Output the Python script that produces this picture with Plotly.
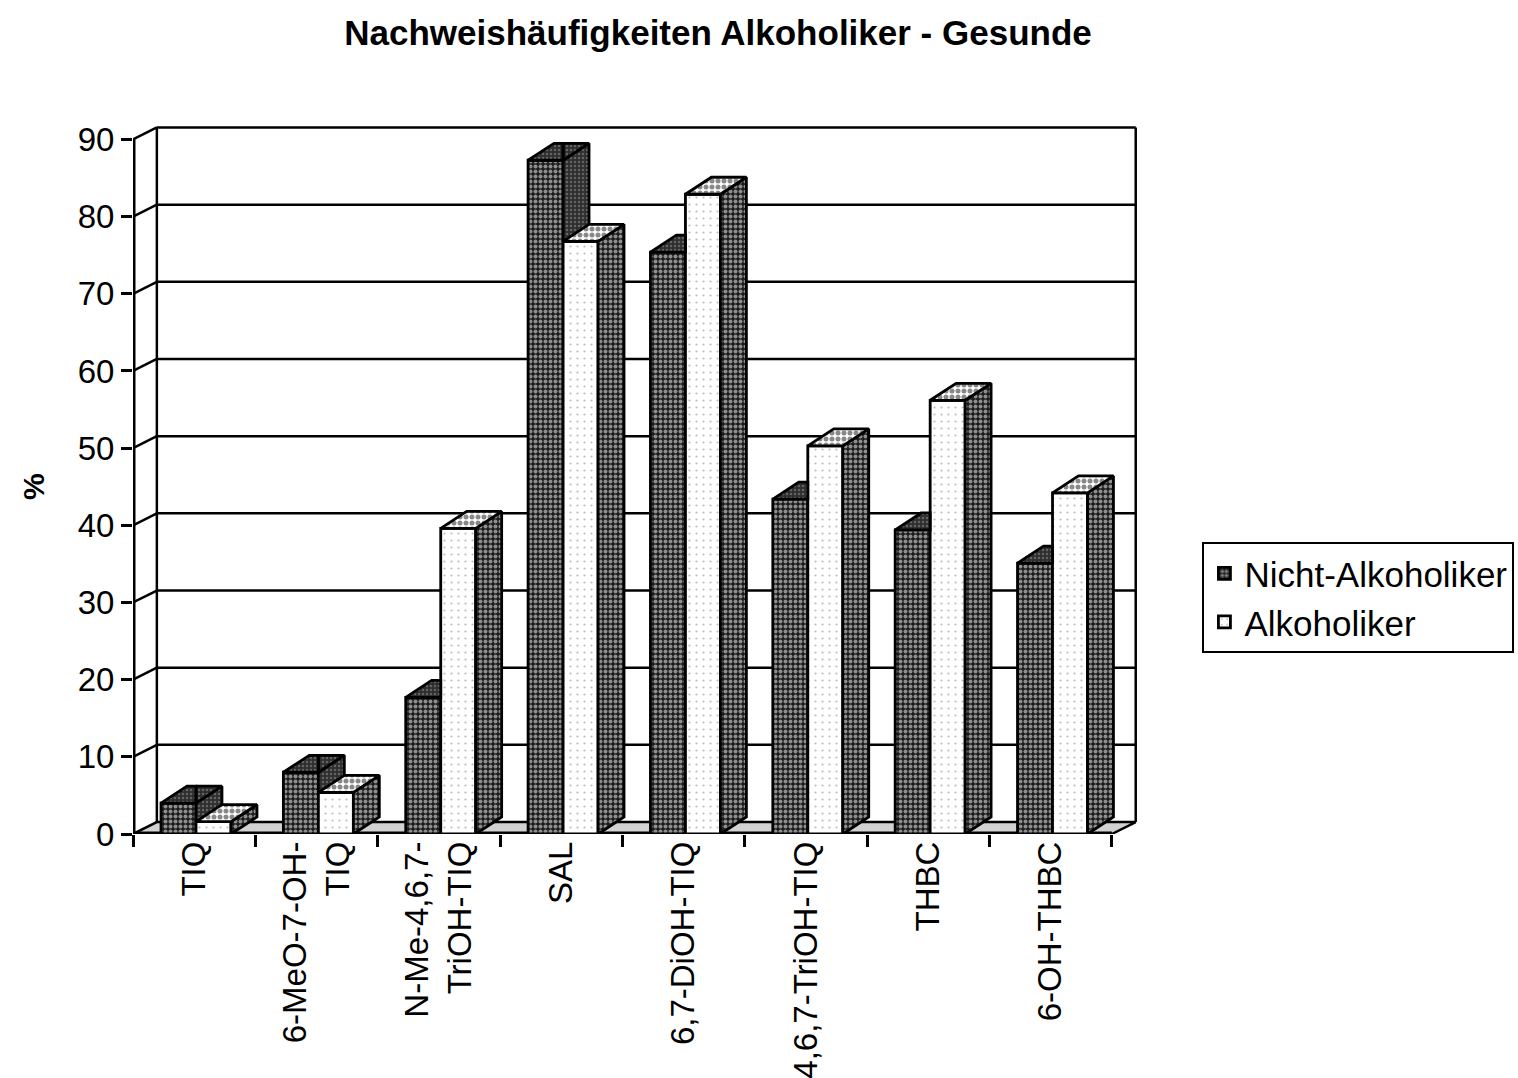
import plotly.graph_objects as go

# ---- data -------------------------------------------------------------
categories = [
    "TIQ",
    "6-MeO-7-OH-<br>TIQ",
    "N-Me-4,6,7-<br>TriOH-TIQ",
    "SAL",
    "6,7-DiOH-TIQ",
    "4,6,7-TriOH-TIQ",
    "THBC",
    "6-OH-THBC",
]
nicht_alkoholiker = [4.0, 8.0, 17.7, 87.3, 75.4, 43.4, 39.4, 35.1]
alkoholiker = [1.6, 5.4, 39.6, 76.8, 82.9, 50.3, 56.2, 44.2]
y_ticks = [0, 10, 20, 30, 40, 50, 60, 70, 80, 90]

# ---- pseudo-3D geometry (axis units) ---------------------------------
BAR_W = 0.286          # front face width of one column
OFF_DARK = -0.271      # left edge of first column relative to category centre
OFF_LIGHT = OFF_DARK + BAR_W
DX, DY = 0.212, 2.2    # depth offset of a column (x units, value units)
WDX, WDY = 0.195, 1.55 # depth offset of the walls / floor
N = len(categories)
X0, X1 = -0.5, N - 0.5
YMAX = y_ticks[-1]

FONT = "Arial, Liberation Sans, sans-serif"
EDGE = dict(color="black", width=2.8)

PAT_DARK = dict(shape=".", bgcolor="#1c1c1c", fgcolor="white", size=5, solidity=0.5)
PAT_DARK_SHADE = dict(shape=".", bgcolor="#2e2e2e", fgcolor="#9a9a9a", size=4, solidity=0.3)
PAT_LIGHT = dict(shape=".", bgcolor="white", fgcolor="#7a7a7a", size=7, solidity=0.08)
PAT_LIGHT_TOP = dict(shape=".", bgcolor="white", fgcolor="#111111", size=6, solidity=0.55)


def clip_half(poly, a, b, c):
    """Keep the part of a polygon where a*x + b*y <= c."""
    out = []
    n = len(poly)
    for k in range(n):
        p, q = poly[k], poly[(k + 1) % n]
        fp = a * p[0] + b * p[1] - c
        fq = a * q[0] + b * q[1] - c
        if fp <= 0:
            out.append(p)
        if (fp < 0 < fq) or (fq < 0 < fp):
            t = fp / (fp - fq)
            out.append((p[0] + t * (q[0] - p[0]), p[1] + t * (q[1] - p[1])))
    return out if len(out) >= 3 else []


def top_face(xl, v):
    xr = xl + BAR_W
    return [(xl, v), (xl + DX, v + DY), (xr + DX, v + DY), (xr, v)]


def side_face(xl, v):
    xr = xl + BAR_W
    return [(xr, 0), (xr, v), (xr + DX, v + DY), (xr + DX, DY)]


def to_xy(polys):
    xs, ys = [], []
    for poly in polys:
        if not poly:
            continue
        for x, y in poly + [poly[0]]:
            xs.append(x)
            ys.append(y)
        xs.append(None)
        ys.append(None)
    return xs, ys


dark_sides, dark_tops, light_sides, light_tops = [], [], [], []
for i in range(N):
    dv, lv = nicht_alkoholiker[i], alkoholiker[i]
    xl_d = i + OFF_DARK
    xr_d = xl_d + BAR_W
    xl_l = i + OFF_LIGHT
    # parts of the dark column hidden behind the light column's front face
    dark_sides.append(clip_half(side_face(xl_d, dv), 0, -1, -lv))
    top = top_face(xl_d, dv)
    dark_tops.append(clip_half(top, 1, 0, xr_d))
    dark_tops.append(clip_half(clip_half(top, -1, 0, -xr_d), 0, -1, -lv))
    light_sides.append(side_face(xl_l, lv))
    light_tops.append(top_face(xl_l, lv))

fig = go.Figure()

# front faces of the columns
fig.add_trace(go.Bar(
    name="Nicht-Alkoholiker", x=list(range(N)), y=nicht_alkoholiker,
    offset=OFF_DARK, width=BAR_W,
    marker=dict(color="#1c1c1c", pattern=PAT_DARK, line=EDGE),
))
fig.add_trace(go.Bar(
    name="Alkoholiker", x=list(range(N)), y=alkoholiker,
    offset=OFF_LIGHT, width=BAR_W,
    marker=dict(color="white", pattern=PAT_LIGHT, line=EDGE),
))

# side and top faces
for polys, pat in [
    (dark_sides, PAT_DARK_SHADE),
    (dark_tops, PAT_DARK_SHADE),
    (light_sides, PAT_DARK),
    (light_tops, PAT_LIGHT_TOP),
]:
    xs, ys = to_xy(polys)
    fig.add_trace(go.Scatter(
        x=xs, y=ys, mode="lines", fill="toself",
        fillcolor=pat["bgcolor"], fillpattern=pat,
        line=EDGE, showlegend=False, hoverinfo="skip",
    ))

# ---- walls, floor and grid -------------------------------------------
shapes = []


def seg(xa, ya, xb, yb, width=2.5):
    shapes.append(dict(type="line", xref="x", yref="y", x0=xa, y0=ya, x1=xb, y1=yb,
                       line=dict(color="black", width=width), layer="below"))


shapes.append(dict(
    type="path", xref="x", yref="y", layer="below",
    path=f"M{X0},0 L{X1},0 L{X1 + WDX},{WDY} L{X0 + WDX},{WDY} Z",
    fillcolor="#d2d2d2", line=dict(color="black", width=2.5),
))
seg(X0, 0, X1, 0, 5)                      # front edge of floor
seg(X0, 0, X0, YMAX, 5)                   # front value axis
seg(X0 + WDX, WDY, X0 + WDX, YMAX + WDY)  # back edge of side wall
seg(X1 + WDX, WDY, X1 + WDX, YMAX + WDY)  # right edge of back wall
for v in y_ticks[1:]:
    seg(X0, v, X0 + WDX, v + WDY)
    seg(X0 + WDX, v + WDY, X1 + WDX, v + WDY)

PLOT_W = 8.23 * 122.4

fig.update_layout(
    width=1518, height=1078,
    margin=dict(l=133, r=1518 - 133 - int(round(PLOT_W)), t=124, b=244,
                autoexpand=False),
    paper_bgcolor="white", plot_bgcolor="white",
    barmode="overlay", showlegend=True,
    shapes=shapes,
    title=dict(
        text="Nachweishäufigkeiten Alkoholiker - Gesunde",
        x=0.473, xanchor="center", y=1 - 33 / 1078, yanchor="middle",
        font=dict(family=FONT, size=35, color="black", weight="bold"),
    ),
    font=dict(family=FONT, color="black"),
    legend=dict(
        x=1.062, xanchor="left", y=0.411, yanchor="top",
        bordercolor="black", borderwidth=2, bgcolor="white",
        font=dict(family=FONT, size=35, color="black"),
        tracegroupgap=0,
    ),
    annotations=[dict(
        text="<b>%</b>", xref="paper", yref="paper",
        x=(33 - 133) / PLOT_W, y=(834 - 487) / 710,
        xanchor="center", yanchor="middle",
        showarrow=False, textangle=-90,
        font=dict(family=FONT, size=30, color="black"),
    )],
)

fig.update_xaxes(
    range=[X0, X1 + 0.23], showgrid=False, zeroline=False, showline=False,
    tickmode="array", tickvals=list(range(N)), ticktext=categories,
    ticks="", tickangle=-90, tickfont=dict(family=FONT, size=33, color="black"),
    minor=dict(tickmode="array", tickvals=[i - 0.5 for i in range(N + 1)],
               ticks="outside", ticklen=12, tickwidth=2.5, tickcolor="black",
               showgrid=False),
    automargin=False, fixedrange=True,
)
fig.update_yaxes(
    range=[0, 92], showgrid=False, zeroline=False, showline=False,
    tickmode="array", tickvals=y_ticks,
    ticks="outside", ticklen=11, tickwidth=2.5, tickcolor="black",
    tickfont=dict(family=FONT, size=33, color="black"),
    automargin=False, fixedrange=True,
)

fig.write_html("out.html")
